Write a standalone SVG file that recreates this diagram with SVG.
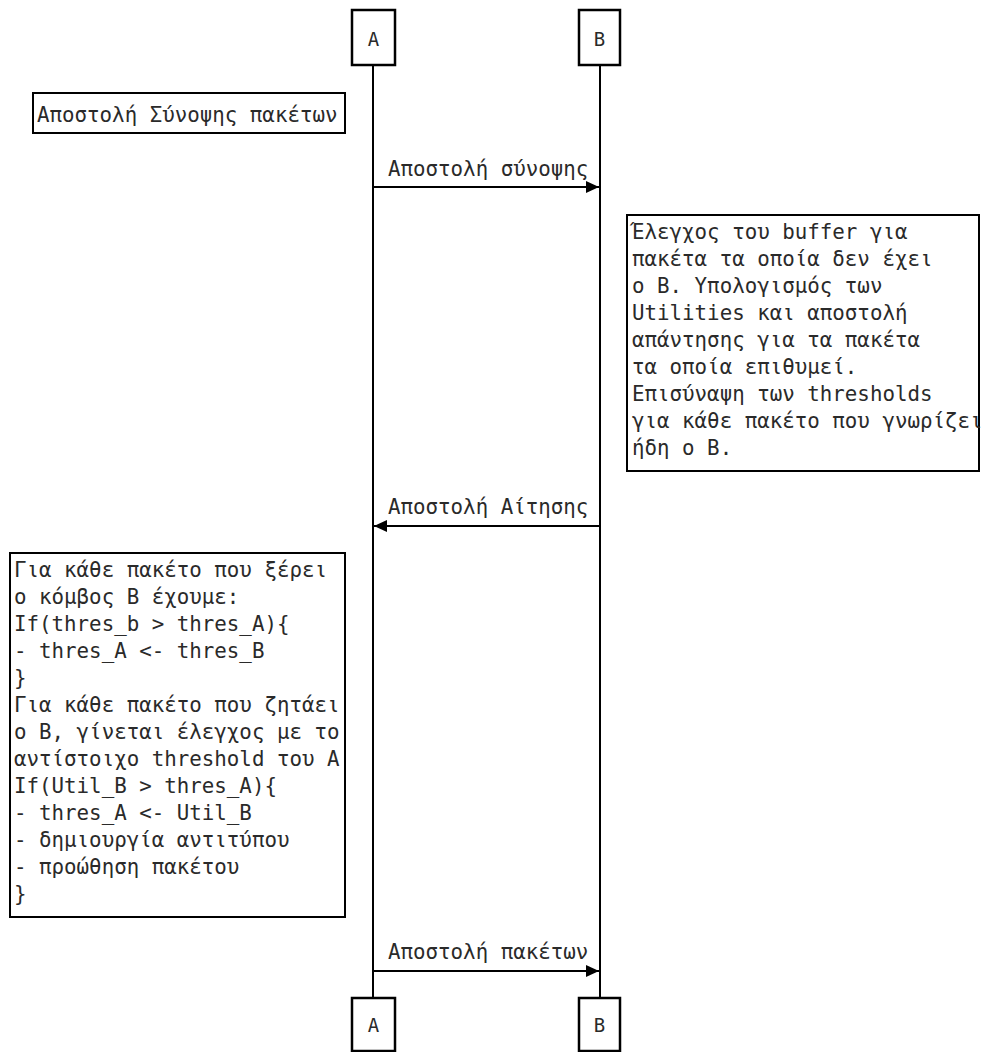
<svg xmlns="http://www.w3.org/2000/svg" width="982" height="1052" viewBox="0 0 982 1052">
  <style>
    .box { fill: #ffffff; stroke: #000000; stroke-width: 2.5; }
    .note { fill: #ffffff; stroke: #000000; stroke-width: 2; }
    .life { stroke: #000000; stroke-width: 2; fill: none; }
    .msg { stroke: #000000; stroke-width: 2; fill: none; marker-end: url(#arrow); }
    text { font-family: "DejaVu Sans Mono", "Liberation Mono", monospace; font-size: 20.8px; fill: #2a2a2a; }
    .pt { text-anchor: middle; font-size: 19px; }
  </style>
  <defs>
    <marker id="arrow" markerUnits="userSpaceOnUse" markerWidth="14" markerHeight="12" refX="13" refY="6" orient="auto">
      <path d="M0,0 L13,6 L0,12 Z" fill="#000000"/>
    </marker>
  </defs>

  <g id="lifelines">
    <line class="life" x1="373" y1="65" x2="373" y2="998"/>
    <line class="life" x1="600" y1="65" x2="600" y2="998"/>
  </g>

  <g id="participant-A-top">
    <rect class="box" x="352" y="10" width="43" height="55"/>
    <text class="pt" x="373.5" y="46">A</text>
  </g>
  <g id="participant-B-top">
    <rect class="box" x="579" y="10" width="41" height="55"/>
    <text class="pt" x="599.5" y="46">B</text>
  </g>
  <g id="participant-A-bottom">
    <rect class="box" x="352" y="998" width="43" height="53"/>
    <text class="pt" x="373.5" y="1032">A</text>
  </g>
  <g id="participant-B-bottom">
    <rect class="box" x="579" y="998" width="41" height="53"/>
    <text class="pt" x="599.5" y="1032">B</text>
  </g>

  <g id="note-summary">
    <rect class="note" x="33" y="93" width="312" height="40"/>
    <text x="37" y="122">Αποστολή Σύνοψης πακέτων</text>
  </g>

  <g id="note-B-check">
    <rect class="note" x="627" y="215" width="352" height="256"/>
    <text x="632" y="239">Έλεγχος του buffer για</text>
    <text x="632" y="266">πακέτα τα οποία δεν έχει</text>
    <text x="632" y="293">ο Β. Υπολογισμός των</text>
    <text x="632" y="320">Utilities και αποστολή</text>
    <text x="632" y="347">απάντησης για τα πακέτα</text>
    <text x="632" y="374">τα οποία επιθυμεί.</text>
    <text x="632" y="401">Επισύναψη των thresholds</text>
    <text x="632" y="428">για κάθε πακέτο που γνωρίζει</text>
    <text x="632" y="455">ήδη ο Β.</text>
  </g>

  <g id="note-A-process">
    <rect class="note" x="10" y="553" width="335" height="364"/>
    <text x="14" y="577">Για κάθε πακέτο που ξέρει</text>
    <text x="14" y="604">ο κόμβος Β έχουμε:</text>
    <text x="14" y="631">If(thres_b &gt; thres_A){</text>
    <text x="14" y="658">- thres_A &lt;- thres_B</text>
    <text x="14" y="685">}</text>
    <text x="14" y="712">Για κάθε πακέτο που ζητάει</text>
    <text x="14" y="739">ο Β, γίνεται έλεγχος με το</text>
    <text x="14" y="766">αντίστοιχο threshold του A</text>
    <text x="14" y="793">If(Util_B &gt; thres_A){</text>
    <text x="14" y="820">- thres_A &lt;- Util_B</text>
    <text x="14" y="847">- δημιουργία αντιτύπου</text>
    <text x="14" y="874">- προώθηση πακέτου</text>
    <text x="14" y="901">}</text>
  </g>

  <g id="connectors">
    <line class="msg" x1="374" y1="187" x2="599" y2="187"/>
    <text x="388" y="176">Αποστολή σύνοψης</text>
    <line class="msg" x1="599" y1="526" x2="374" y2="526"/>
    <text x="388" y="514">Αποστολή Αίτησης</text>
    <line class="msg" x1="374" y1="971" x2="599" y2="971"/>
    <text x="388" y="959">Αποστολή πακέτων</text>
  </g>
</svg>
